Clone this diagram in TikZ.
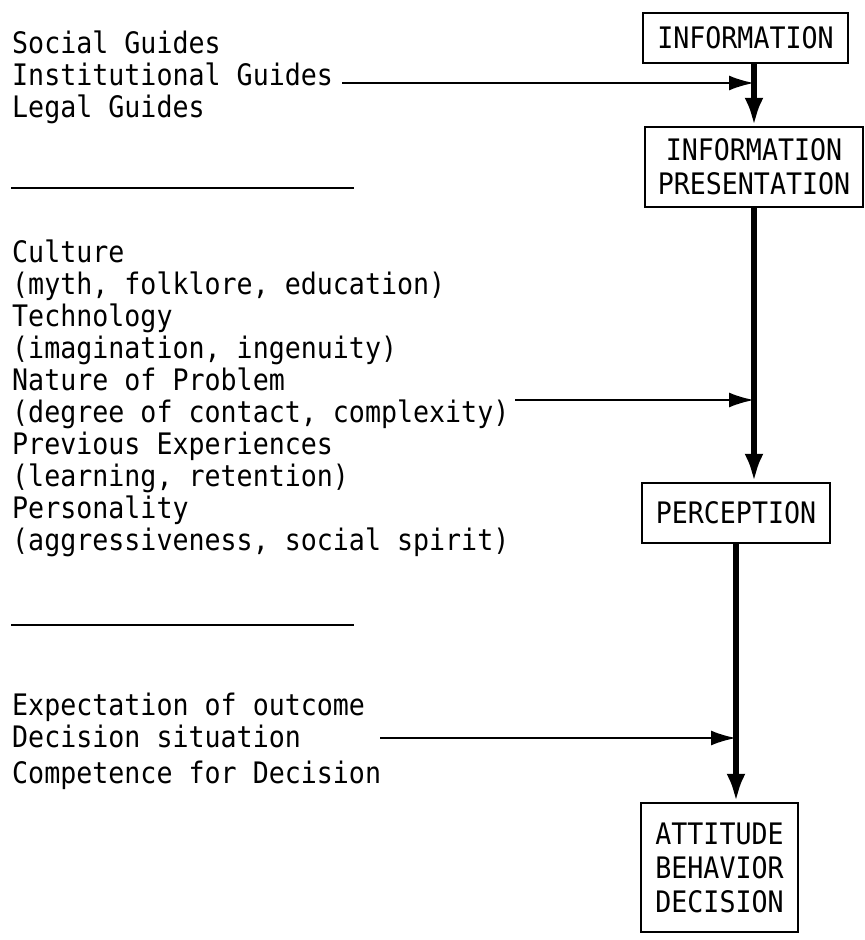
\documentclass[tikz,border=0pt]{standalone}
\usepackage{fontspec}
\setmonofont[FakeStretch=0.9]{DejaVu Sans Mono}
\usetikzlibrary{arrows.meta}

\tikzset{
  box/.style={draw, line width=2.5pt, align=center, inner sep=0pt,
    font=\ttfamily\fontsize{29.6}{34}\selectfont},
  lefttext/.style={anchor=base west, align=left, inner sep=0pt,
    font=\ttfamily\fontsize{29.6}{32}\selectfont},
  feed/.style={line width=2.5pt, -{Latex[length=25pt,width=15pt]}},
  flow/.style={line width=6pt, -{Latex[length=28pt,width=19pt]}},
  rule/.style={line width=2.5pt}
}

\begin{document}
\begin{tikzpicture}[x=1pt,y=-1pt]
  \useasboundingbox (0,0) rectangle (865,940);

  % Boxes on the right
  \node[box, minimum width=205, minimum height=50] (info) at (745.5,38) {INFORMATION};
  \node[box, minimum width=218, minimum height=80] (pres) at (754,167) {INFORMATION\\PRESENTATION};
  \node[box, minimum width=188, minimum height=60] (perc) at (736,513) {PERCEPTION};
  \node[box, minimum width=157, minimum height=129] (att) at (719.5,867.5) {ATTITUDE\\BEHAVIOR\\DECISION};

  % Influences on the left (placed by the baseline of their last line)
  \node[lefttext] (guides) at (12,117) {Social Guides\\Institutional Guides\\Legal Guides};
  \node[lefttext] (factors) at (12,550) {Culture\\(myth, folklore, education)\\Technology\\(imagination, ingenuity)\\Nature of Problem\\(degree of contact, complexity)\\Previous Experiences\\(learning, retention)\\Personality\\(aggressiveness, social spirit)};
  \node[lefttext] (decis) at (12,783) {Expectation of outcome\\Decision situation\\[4pt]Competence for Decision};

  % Separating rules
  \draw[rule] (11,188) -- (354,188);
  \draw[rule] (11,625) -- (354,625);

  % Start points of the side arrows
  \coordinate (g) at (342,83);
  \coordinate (f) at (515,400);
  \coordinate (d) at (380,738);

  % Main flow
  \draw[flow] (info.south -| pres.north) -- (pres.north);
  \draw[flow] (pres.south) -- (pres.south |- perc.north);
  \draw[flow] (perc.south) -- (perc.south |- att.north);

  % Side arrows
  \draw[feed] (g) -- (g -| pres.north);
  \draw[feed] (f) -- (f -| pres.south);
  \draw[feed] (d) -- (d -| perc.south);
\end{tikzpicture}
\end{document}
